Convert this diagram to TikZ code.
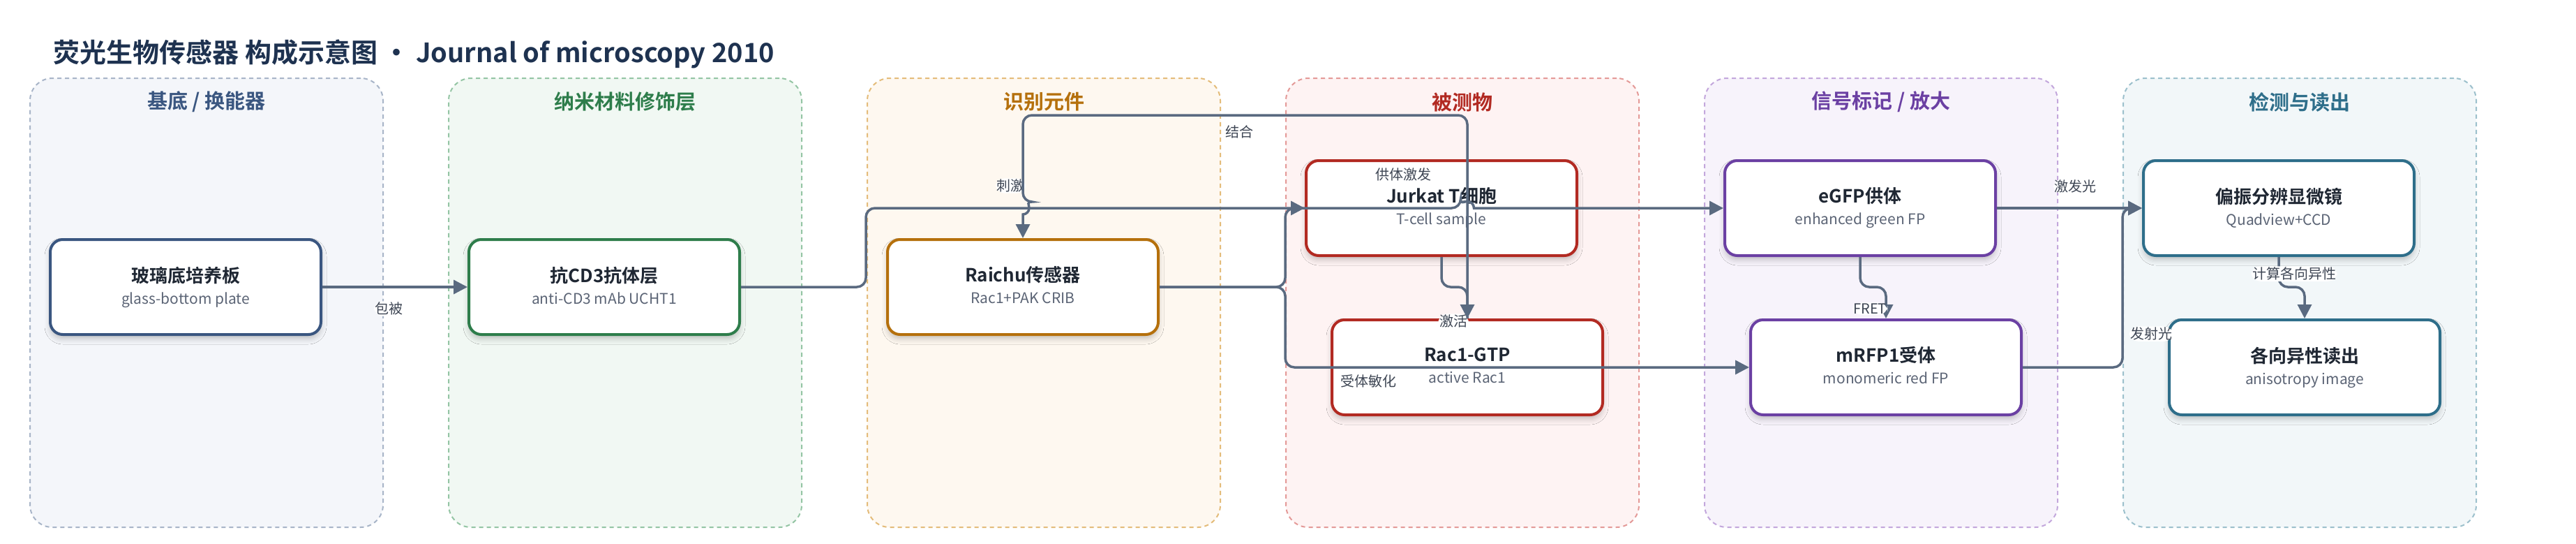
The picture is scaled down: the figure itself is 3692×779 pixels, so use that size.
\documentclass[tikz,border=0pt]{standalone}
\usepackage{fontspec}
\setmainfont{Noto Sans CJK SC}[BoldFont={Noto Sans CJK SC Bold}]
\usetikzlibrary{positioning,arrows.meta,calc,shadows.blur}

\definecolor{titlec}{HTML}{1E3250}
\definecolor{inkdark}{HTML}{1F2733}
\definecolor{subgray}{HTML}{5B6475}
\definecolor{edgegray}{HTML}{5A6A80}
\definecolor{lblgray}{HTML}{3E4654}
\definecolor{laneAfill}{HTML}{F4F6FA}\definecolor{laneAline}{HTML}{A8B5C8}\definecolor{laneAdark}{HTML}{3A5680}
\definecolor{laneBfill}{HTML}{F1F8F3}\definecolor{laneBline}{HTML}{94C5A4}\definecolor{laneBdark}{HTML}{2E7D4B}
\definecolor{laneCfill}{HTML}{FEF8F0}\definecolor{laneCline}{HTML}{E4BC7A}\definecolor{laneCdark}{HTML}{B5700C}
\definecolor{laneDfill}{HTML}{FEF3F3}\definecolor{laneDline}{HTML}{E49A98}\definecolor{laneDdark}{HTML}{B22A22}
\definecolor{laneEfill}{HTML}{F7F3FB}\definecolor{laneEline}{HTML}{C3A7DC}\definecolor{laneEdark}{HTML}{6B40A3}
\definecolor{laneFfill}{HTML}{F2F7F9}\definecolor{laneFline}{HTML}{9CC0CC}\definecolor{laneFdark}{HTML}{2E6E8A}

\newcommand{\cardtext}[2]{{\bfseries\fontsize{26}{31}\selectfont #1}\\{\color{subgray}#2\vphantom{gp}}}

\begin{document}
\begin{tikzpicture}[x=1pt,y=1pt,node distance=600pt,on grid,
    >={Triangle[length=20pt,width=20pt]},
    lane/.style 2 args={draw=#1,fill=#2,line width=2pt,dash pattern=on 6pt off 5pt,
      rounded corners=32pt,minimum width=506pt,minimum height=643pt},
    lanetitle/.style={font=\bfseries\fontsize{29}{34}\selectfont,text=#1},
    card/.style={draw=#1,fill=white,line width=4pt,rounded corners=18pt,
      minimum width=388pt,minimum height=136pt,align=center,
      font=\fontsize{21}{31}\selectfont,text=inkdark,
      blur shadow={shadow xshift=0pt,shadow yshift=-6pt,shadow blur radius=8pt,shadow opacity=22}},
    flow/.style={->,draw=edgegray,line width=3.5pt,rounded corners=13pt},
    lbl/.style={fill=white,inner sep=1.5pt,font=\fontsize{20}{24}\selectfont,text=lblgray}]
  \path[use as bounding box,fill=white] (0,0) rectangle (3692,-779);

  \node[anchor=west,font=\bfseries\fontsize{38}{42}\selectfont,text=titlec] (title) at (73,-77)
    {荧光生物传感器 构成示意图 • Journal of microscopy 2010};

  % lanes
  \node[lane={laneAline}{laneAfill}] (laneA) at (296,-433.5) {};
  \node[lane={laneBline}{laneBfill}] (laneB) [right=of laneA] {};
  \node[lane={laneCline}{laneCfill}] (laneC) [right=of laneB] {};
  \node[lane={laneDline}{laneDfill}] (laneD) [right=of laneC] {};
  \node[lane={laneEline}{laneEfill}] (laneE) [right=of laneD] {};
  \node[lane={laneFline}{laneFfill}] (laneF) [right=of laneE] {};
  \node[lanetitle=laneAdark] (headA) [below=35pt of laneA.north,anchor=center] {基底 / 换能器};
  \node[lanetitle=laneBdark] (headB) [below=35pt of laneB.north,anchor=center] {纳米材料修饰层};
  \node[lanetitle=laneCdark] (headC) [below=35pt of laneC.north,anchor=center] {识别元件};
  \node[lanetitle=laneDdark] (headD) [below=35pt of laneD.north,anchor=center] {被测物};
  \node[lanetitle=laneEdark] (headE) [below=35pt of laneE.north,anchor=center] {信号标记 / 放大};
  \node[lanetitle=laneFdark] (headF) [below=35pt of laneF.north,anchor=center] {检测与读出};

  % cards
  \node[card=laneAdark] (glass)  at (266,-411)                          {\cardtext{玻璃底培养板}{glass-bottom plate}};
  \node[card=laneBdark] (cd3)    [right=of glass]                       {\cardtext{抗CD3抗体层}{anti-CD3 mAb UCHT1}};
  \node[card=laneCdark] (raichu) [right=of cd3]                         {\cardtext{Raichu传感器}{Rac1+PAK CRIB}};
  \node[card=laneDdark] (jurkat) [above right=113pt and 600pt of raichu] {\cardtext{Jurkat T细胞}{T-cell sample}};
  \node[card=laneDdark] (rac)    [below right=228pt and 37pt of jurkat] {\cardtext{Rac1-GTP}{active Rac1}};
  \node[card=laneEdark] (egfp)   [right=of jurkat]                      {\cardtext{eGFP供体}{enhanced green FP}};
  \node[card=laneEdark] (mrfp)   [right=of rac]                         {\cardtext{mRFP1受体}{monomeric red FP}};
  \node[card=laneFdark] (scope)  [right=of egfp]                        {\cardtext{偏振分辨显微镜}{Quadview+CCD}};
  \node[card=laneFdark] (aniso)  [right=of mrfp]                        {\cardtext{各向异性读出}{anisotropy image}};

  % connectors
  \draw[flow] (glass) -- node[lbl,pos=0.46,yshift=-31pt] {包被} (cd3);
  \draw[flow] (cd3.east) -- ++(179,0) |- node[lbl,pos=0.665,yshift=32pt] {刺激} (jurkat.west);
  \draw[flow] (raichu.east) -- ++(180,0) |- node[lbl,pos=0.837,yshift=48pt] {供体激发}
    ($(rac.north |- egfp.west)+(-9.5,0)$) [sharp corners] arc[start angle=180,end angle=0,radius=9.5] -- (egfp.west);
  \draw[flow] (raichu.east) -- ++(180,0) |- node[lbl,pos=0.59,yshift=-20pt] {受体敏化} (mrfp.west);
  \draw[flow] (jurkat.south) -- ++(0,-43) -| node[lbl,pos=1,xshift=-20pt,yshift=-4pt] {激活} (rac.north);
  \draw[flow] (rac.north) -- ++(0,291) -| node[lbl,pos=0.256,yshift=-24pt] {结合}
    ($(raichu.north |- jurkat.west)+(0,9)$) [sharp corners] arc[start angle=90,end angle=-90,radius=9] -- (raichu.north);
  \draw[flow] (egfp.south) -- ++(0,-43) -| node[lbl,pos=1,xshift=-23pt,yshift=14pt] {FRET} (mrfp.north);
  \draw[flow] (egfp) -- node[lbl,pos=0.54,yshift=31pt] {激发光} (scope);
  \draw[flow] (mrfp.east) -- ++(143,0) |- node[lbl,pos=0.105,xshift=41pt] {发射光} (scope.west);
  \draw[flow] (scope.south) -- node[lbl,pos=0.56,xshift=22pt] {计算各向异性} ++(0,-43) -| (aniso.north);
\end{tikzpicture}
\end{document}
